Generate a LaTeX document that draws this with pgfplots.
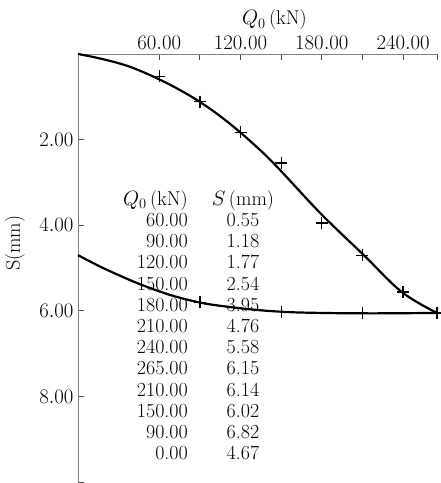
\documentclass[border=0pt]{standalone}
\usepackage{pgfplots}
\pgfplotsset{compat=1.18}
\begin{document}
\begin{tikzpicture}
\begin{axis}[
  scale only axis,
  width=359pt, height=428pt,
  xmin=0, xmax=265, ymin=0, ymax=10,
  y dir=reverse,
  axis x line*=top,
  axis y line*=left,
  axis line style={gray, line width=0.9pt},
  tick style={gray!60!black, line width=0.9pt},
  tick align=inside,
  major tick length=6pt, minor tick length=6pt,
  xtick={60,120,180,240},
  minor xtick={90,150,210,265},
  ytick={2,4,6,8},
  minor ytick={10},
  ticklabel style={font=\fontsize{20}{24}\selectfont},
  xticklabel style={/pgf/number format/.cd, fixed, fixed zerofill, precision=2},
  yticklabel style={/pgf/number format/.cd, fixed, fixed zerofill, precision=2},
  xticklabel shift=1pt,
  yticklabel shift=1pt,
  clip=false,
]
% loading curve
\addplot[black, line width=2.2pt, smooth, tension=0.6] coordinates {
 (0,0) (41,0.33) (90,1.12) (134.3,2.24) (178.6,3.71) (211,4.70) (239,5.56) (265,6.05)};
% unloading curve
\addplot[black, line width=2.2pt, smooth] coordinates {
 (0,4.70) (18.5,5.0) (43.5,5.35) (68,5.63) (92,5.82) (117,5.93) (139.5,6.00)
 (164,6.04) (210,6.06) (265,6.05)};
% measured points
\addplot[only marks, mark=+, mark size=6pt, line width=1.3pt, black] coordinates {
 (60,0.52) (90,1.11) (120,1.83) (150,2.55) (180,3.95) (210,4.70) (240,5.56) (265,6.05)};
\addplot[only marks, mark=+, mark size=6pt, line width=1.3pt, black] coordinates {
 (210,6.05) (150,6.02) (90,5.80)};
\node[anchor=north east, inner sep=0pt, font=\fontsize{20}{21.2}\selectfont] at (axis cs:81.2,3.18) {%
\begin{tabular}{@{}r@{}}
$Q_0$\,(kN)\\ 60.00\\ 90.00\\ 120.00\\ 150.00\\ 180.00\\ 210.00\\ 240.00\\ 265.00\\ 210.00\\ 150.00\\ 90.00\\ 0.00
\end{tabular}};
\node[anchor=north, inner sep=0pt, font=\fontsize{20}{21.2}\selectfont] at (axis cs:121.8,3.18) {%
\begin{tabular}{@{}c@{}}
$S$\,(mm)\\ 0.55\\ 1.18\\ 1.77\\ 2.54\\ 3.95\\ 4.76\\ 5.58\\ 6.15\\ 6.14\\ 6.02\\ 6.82\\ 4.67
\end{tabular}};
\node[font=\fontsize{20}{24}\selectfont, rotate=90] at ([xshift=-63pt]axis cs:0,4.42) {S(mm)};
\node[font=\fontsize{20}{24}\selectfont] at ([yshift=34pt]axis cs:145,0) {$Q_0$\,(kN)};
\coordinate (tl) at (axis cs:0,0);
\coordinate (br) at (axis cs:265,10);
\end{axis}
\pgfresetboundingbox
\path ([shift={(-78pt,54pt)}]tl) rectangle ([shift={(4pt,-1pt)}]br);
\end{tikzpicture}
\end{document}
